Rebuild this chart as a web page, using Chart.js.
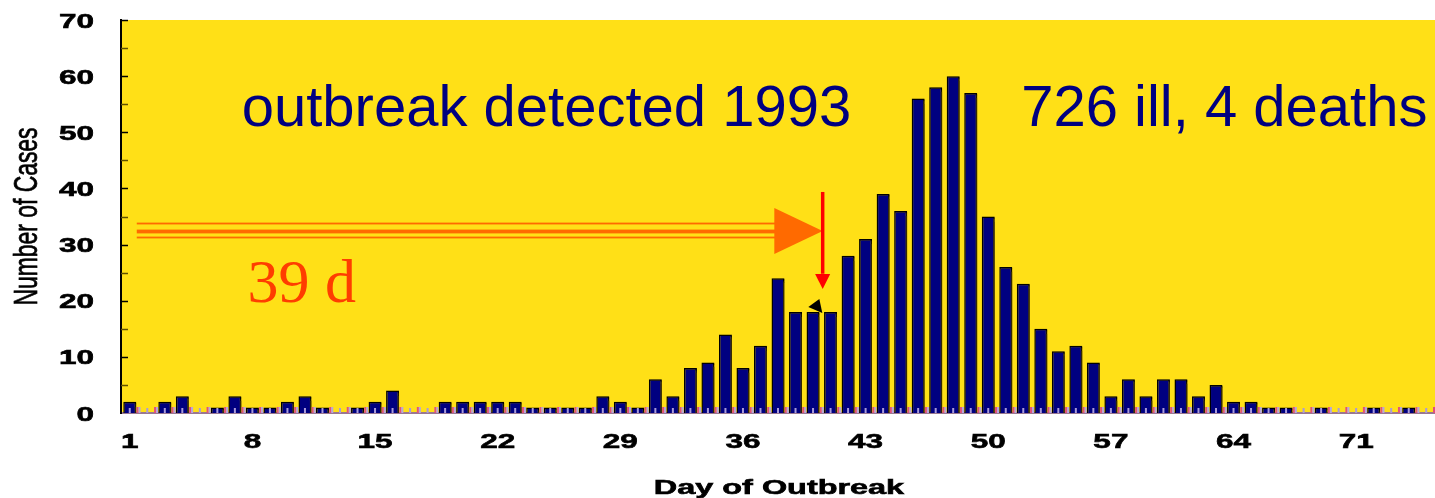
<!DOCTYPE html>
<html>
<head>
<meta charset="utf-8">
<script src="https://cdn.jsdelivr.net/npm/chart.js@4/dist/chart.umd.min.js"></script>
<style>
  html, body { margin: 0; padding: 0; background: #ffffff; }
  #wrap { width: 1435px; height: 498px; position: relative; }
</style>
</head>
<body>
<div id="wrap"><canvas id="c" width="1435" height="498"></canvas></div>
<script>
// ---- data ----
const days = [1,2,3,4,5,6,7,8,9,10,11,12,13,14,15,16,17,18,19,20,21,22,23,24,25,
  26,27,28,29,30,31,32,33,34,35,36,37,38,39,40,41,42,43,44,45,46,47,48,49,50,
  51,52,53,54,55,56,57,58,59,60,61,62,63,64,65,66,67,68,69,70,71,72,73,74,75];
const cases = [2,0,2,3,0,1,3,1,1,2, 3,1,0,1,2,4,0,0,2,2, 2,2,2,1,1,1,1,3,2,1,
  6,3,8,9,14,8,12,24,18,18, 18,28,31,39,36,56,58,60,57,35, 26,23,15,11,12,9,3,6,3,6,
  6,3,5,2,2,1,1,0,1,0, 0,1,0,1,0];
const xTickLabels = [1,8,15,22,29,36,43,50,57,64,71];
const yTickValues = [0,10,20,30,40,50,60,70];
const yTitle = "Number of Cases";
const xTitle = "Day of Outbreak";
const noteLeft = "outbreak detected 1993";
const noteRight = "726 ill, 4 deaths";
const noteLag = "39 d";
const detectionDay = 40.55;

const YELLOW = "#FFE017";
const NAVY = "#000080";
const AXIS_FONT = 'bold 21px "Liberation Sans", Arial, sans-serif';
const STRETCH = 1.5; // the axis lettering is drawn horizontally widened

function wideText(ctx, text, x, y, align, sx) {
  ctx.save();
  ctx.translate(x, y);
  ctx.scale(sx, 1);
  ctx.textAlign = align;
  ctx.fillText(text, 0, 0);
  ctx.lineWidth = 0.6;
  ctx.strokeText(text, 0, 0);
  ctx.restore();
}

const decor = {
  id: "decor",
  beforeDraw(chart) {
    const { ctx, chartArea: a } = chart;
    ctx.save();
    ctx.fillStyle = YELLOW;
    ctx.fillRect(a.left, a.top, a.right - a.left, a.bottom - a.top);
    ctx.restore();
  },
  beforeDatasetsDraw(chart) {
    const ctx = chart.ctx;
    ctx.save();
    ctx.shadowColor = "rgba(70,55,0,0.75)";
    ctx.shadowOffsetX = 2;
    ctx.shadowOffsetY = 1;
    ctx.shadowBlur = 1;
  },
  afterDatasetsDraw(chart) {
    const ctx = chart.ctx;
    ctx.restore();
    const x = chart.scales.x, y = chart.scales.y, a = chart.chartArea;
    const px = d => x.getPixelForValue(d - 1);
    const py = v => y.getPixelForValue(v);
    ctx.save();
    // small baseline marks
    const step = px(2) - px(1);
    days.forEach(d => {
      const c = px(d);
      ctx.fillStyle = "#a99bd9";
      ctx.fillRect(c - 1, a.bottom - 5, 2, 5);
      ctx.fillStyle = "#e2507c";
      ctx.fillRect(c + step / 2 - 2, a.bottom - 6, 2, 6);
      ctx.fillStyle = "#b4a6e0";
      ctx.fillRect(c + step / 2, a.bottom - 6, 2, 6);
    });
    // y ticks inside axis
    for (let v = 5; v <= 70; v += 5) {
      ctx.strokeStyle = v % 10 === 0 ? "#000000" : "#5f5000";
      ctx.lineWidth = 1.5;
      ctx.beginPath();
      ctx.moveTo(a.left, Math.round(py(v)) + 0.5);
      ctx.lineTo(a.left + 7, Math.round(py(v)) + 0.5);
      ctx.stroke();
    }
    // orange triple arrow
    ctx.fillStyle = "#FF6A00";
    const x0 = px(1.4), x1 = px(37.85);
    [[33.75, 1.8], [32.33, 3.8], [31.26, 1.8]].forEach(([v, w]) => {
      ctx.fillRect(x0, py(v) - w / 2, x1 - x0, w);
    });
    ctx.beginPath();
    ctx.moveTo(px(37.79), py(36.52));
    ctx.lineTo(px(detectionDay), py(32.42));
    ctx.lineTo(px(37.79), py(28.32));
    ctx.closePath();
    ctx.fill();
    // red down arrow
    ctx.strokeStyle = "#FF0000";
    ctx.fillStyle = "#FF0000";
    ctx.lineWidth = 3.5;
    ctx.beginPath();
    ctx.moveTo(px(detectionDay), py(39.37));
    ctx.lineTo(px(detectionDay), py(24.8));
    ctx.stroke();
    ctx.beginPath();
    ctx.moveTo(px(40.12), py(24.76));
    ctx.lineTo(px(40.98), py(24.76));
    ctx.lineTo(px(detectionDay), py(22.09));
    ctx.closePath();
    ctx.fill();
    // small black pointer
    ctx.fillStyle = "#000000";
    ctx.beginPath();
    ctx.moveTo(px(39.73), py(18.88));
    ctx.lineTo(px(40.36), py(20.31));
    ctx.lineTo(px(40.53), py(17.81));
    ctx.closePath();
    ctx.fill();
    // texts
    ctx.textBaseline = "alphabetic";
    ctx.textAlign = "left";
    ctx.fillStyle = NAVY;
    ctx.font = '58px "Liberation Sans", Arial, sans-serif';
    ctx.fillText(noteLeft, px(7.39), py(51.12));
    ctx.fillText(noteRight, px(51.88), py(51.12));
    ctx.fillStyle = "#FF3D00";
    ctx.font = '62px "Liberation Serif", "Times New Roman", serif';
    ctx.fillText(noteLag, px(7.72), py(19.77));
    ctx.restore();
  },
  afterDraw(chart) {
    const ctx = chart.ctx;
    const x = chart.scales.x, y = chart.scales.y, a = chart.chartArea;
    const px = d => x.getPixelForValue(d - 1);
    const py = v => y.getPixelForValue(v);
    ctx.save();
    ctx.fillStyle = "#000000";
    ctx.strokeStyle = "#000000";
    ctx.textBaseline = "alphabetic";
    ctx.font = AXIS_FONT;
    // y tick labels
    yTickValues.forEach(v => wideText(ctx, String(v), a.left - 27, py(v) + 7.5, "right", STRETCH));
    // x tick labels
    xTickLabels.forEach(d => wideText(ctx, String(d), px(d), a.bottom + 35, "center", STRETCH));
    // x title
    ctx.font = 'bold 20px "Liberation Sans", Arial, sans-serif';
    wideText(ctx, xTitle, (a.left + a.right) / 2 + 1, a.bottom + 81, "center", 1.62);
    // y title
    ctx.translate(37, (a.top + a.bottom) / 2);
    ctx.rotate(-Math.PI / 2);
    ctx.font = '23px "Liberation Sans", Arial, sans-serif';
    const w = ctx.measureText(yTitle).width;
    ctx.scale(178 / w, 1.45);
    ctx.textAlign = "center";
    ctx.fillText(yTitle, 0, 0);
    ctx.lineWidth = 0.5;
    ctx.strokeText(yTitle, 0, 0);
    ctx.restore();
  }
};

new Chart(document.getElementById("c"), {
  type: "bar",
  data: {
    labels: days,
    datasets: [{
      label: "Cases",
      data: cases,
      backgroundColor: NAVY,
      borderColor: "#000000",
      borderWidth: 1.5,
      borderSkipped: "bottom",
      barPercentage: 0.74,
      categoryPercentage: 1.0
    }]
  },
  options: {
    responsive: false,
    animation: false,
    devicePixelRatio: 1,
    layout: { padding: { top: 20, right: 0, bottom: 0, left: 0 } },
    plugins: { legend: { display: false }, tooltip: { enabled: false }, title: { display: false } },
    scales: {
      x: {
        type: "category",
        offset: true,
        grid: { display: false, drawTicks: false },
        border: { display: true, color: "#9a7890", width: 2 },
        ticks: { display: false },
        title: { display: false, text: xTitle },
        afterFit(scale) { scale.height = 85; scale.paddingLeft = 0; scale.paddingRight = 0; }
      },
      y: {
        min: 0,
        max: 70,
        grid: { display: false, drawTicks: false },
        border: { display: true, color: "#000000", width: 2 },
        afterBuildTicks(scale) { scale.ticks = yTickValues.map(v => ({ value: v })); },
        ticks: { display: false },
        title: { display: false, text: yTitle },
        afterFit(scale) { scale.width = 121; scale.paddingTop = 0; scale.paddingBottom = 0; }
      }
    }
  },
  plugins: [decor]
});
</script>
</body>
</html>
